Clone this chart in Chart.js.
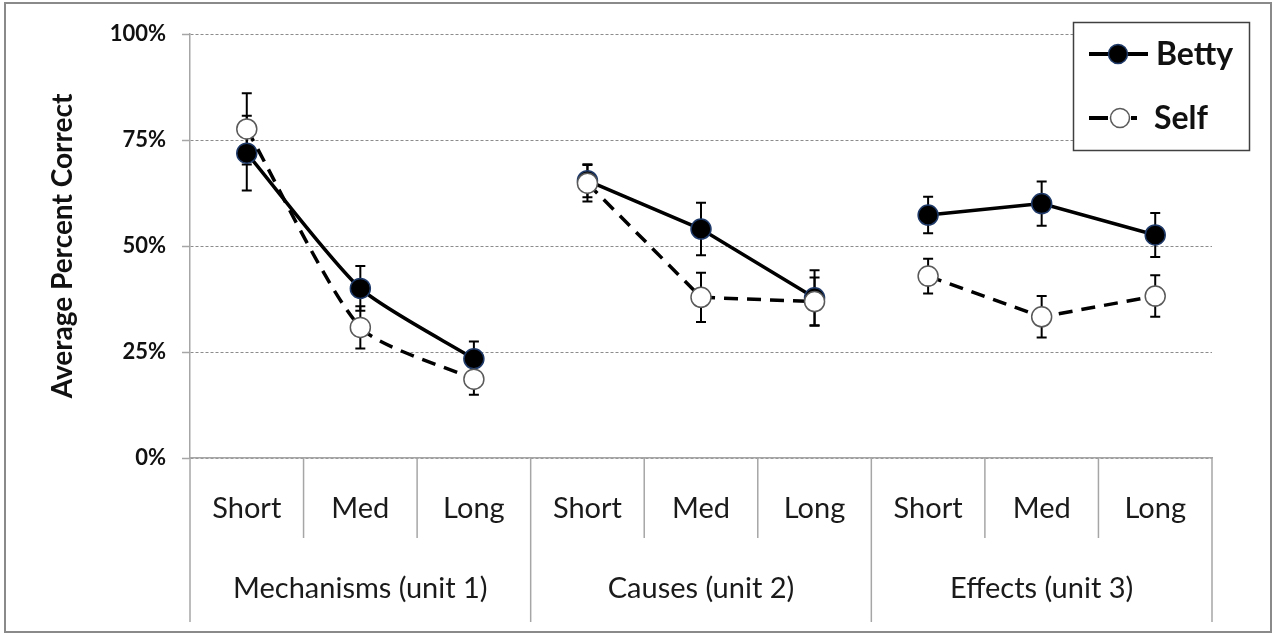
<!DOCTYPE html>
<html><head><meta charset="utf-8">
<script src="https://cdn.jsdelivr.net/npm/chart.js@4"></script>
<style>
html,body{margin:0;padding:0;background:#fff;}
#wrap{position:relative;width:1274px;height:634px;}
canvas{display:block;}
</style></head><body>
<div id="wrap"><canvas id="c" width="1274" height="634"></canvas></div>
<script>
const categories = ['Short','Med','Long','Short','Med','Long','Short','Med','Long'];
const groups = ['Mechanisms (unit 1)','Causes (unit 2)','Effects (unit 3)'];
const groupSize = 3;
const bettyValues = [71.9, 40.0, 23.4, 65.4, 54.0, 37.8, 57.3, 60.0, 52.6];
const bettyErrors = [8.8, 5.3, 4.1, 3.9, 6.2, 6.5, 4.3, 5.2, 5.2];
const selfValues  = [77.6, 30.8, 18.6, 64.8, 37.9, 36.9, 42.9, 33.3, 38.2];
const selfErrors  = [8.4, 5.0, 3.7, 4.3, 5.8, 5.7, 4.1, 4.9, 4.9];
const groupTension = [0.22, 0, 0];
const yTicks = [0, 25, 50, 75, 100];
const seriesNames = ['Betty', 'Self'];

const FONT = 'Lato';
const AXIS_GRAY = '#a6a6a6';

function mask(arr, g) { return arr.map((v, i) => Math.floor(i / groupSize) === g ? v : null); }

const datasets = [];
// Self first so it is drawn on top
groups.forEach((name, g) => {
  datasets.push({
    label: 'Self', data: mask(selfValues, g), borderColor: '#000', borderWidth: 3.5,
    borderDash: [14, 9], pointRadius: 10, pointBackgroundColor: '#fff',
    pointBorderColor: '#5a5a5a', pointBorderWidth: 1.5, tension: groupTension[g], spanGaps: false
  });
});
groups.forEach((name, g) => {
  datasets.push({
    label: 'Betty', data: mask(bettyValues, g), borderColor: '#000', borderWidth: 3.5,
    pointRadius: 10, pointBackgroundColor: '#000',
    pointBorderColor: '#1f3a68', pointBorderWidth: 1.5, tension: groupTension[g], spanGaps: false
  });
});

const errorBars = {
  id: 'errorBars',
  beforeDatasetsDraw(chart) {
    const ctx = chart.ctx, xs = chart.scales.x, ys = chart.scales.y;
    const sets = [[bettyValues, bettyErrors], [selfValues, selfErrors]];
    ctx.save();
    ctx.strokeStyle = '#000';
    ctx.lineWidth = 2;
    sets.forEach(([vals, errs]) => {
      vals.forEach((v, i) => {
        const x = xs.getPixelForValue(i);
        const y1 = ys.getPixelForValue(v + errs[i]);
        const y2 = ys.getPixelForValue(v - errs[i]);
        ctx.beginPath();
        ctx.moveTo(x, y1); ctx.lineTo(x, y2);
        ctx.moveTo(x - 5, y1); ctx.lineTo(x + 5, y1);
        ctx.moveTo(x - 5, y2); ctx.lineTo(x + 5, y2);
        ctx.stroke();
      });
    });
    ctx.restore();
  }
};

const decor = {
  id: 'decor',
  afterDraw(chart) {
    const ctx = chart.ctx, xs = chart.scales.x, ys = chart.scales.y;
    const area = chart.chartArea;
    const step = xs.getPixelForValue(1) - xs.getPixelForValue(0);
    ctx.save();
    // category separators
    ctx.strokeStyle = AXIS_GRAY;
    ctx.lineWidth = 1.5;
    for (let i = 0; i <= categories.length; i++) {
      const x = xs.getPixelForValue(0) + (i - 0.5) * step;
      const isGroup = i % groupSize === 0;
      ctx.beginPath();
      ctx.moveTo(x, area.bottom);
      ctx.lineTo(x, isGroup ? area.bottom + 164 : area.bottom + 80);
      ctx.stroke();
    }
    // group labels
    ctx.fillStyle = '#1a1a1a';
    ctx.font = '29px ' + FONT;
    ctx.textAlign = 'center';
    ctx.textBaseline = 'middle';
    groups.forEach((name, g) => {
      const x = xs.getPixelForValue(g * groupSize + 1);
      ctx.fillText(name, x, area.bottom + 131);
    });
    // y title
    ctx.save();
    ctx.translate(63, (area.top + area.bottom) / 2 + 0);
    ctx.rotate(-Math.PI / 2);
    ctx.font = 'bold 28px ' + FONT;
    ctx.fillStyle = '#111';
    ctx.fillText('Average Percent Correct', 0, 0);
    ctx.restore();
    // legend
    ctx.fillStyle = '#fff';
    ctx.fillRect(1073, 22, 176, 128);
    ctx.strokeStyle = '#404040';
    ctx.lineWidth = 1.5;
    ctx.strokeRect(1073.5, 22.5, 176, 128);
    const legendY = [54, 118];
    // Betty
    ctx.strokeStyle = '#000';
    ctx.lineWidth = 4;
    ctx.beginPath(); ctx.moveTo(1089, legendY[0]); ctx.lineTo(1148, legendY[0]); ctx.stroke();
    ctx.beginPath(); ctx.arc(1118, legendY[0], 9.5, 0, Math.PI * 2);
    ctx.fillStyle = '#000'; ctx.fill();
    ctx.strokeStyle = '#1f3a68'; ctx.lineWidth = 1.5; ctx.stroke();
    // Self
    ctx.strokeStyle = '#000'; ctx.lineWidth = 4;
    ctx.beginPath(); ctx.moveTo(1089, legendY[1]); ctx.lineTo(1108, legendY[1]); ctx.stroke();
    ctx.beginPath(); ctx.moveTo(1131, legendY[1]); ctx.lineTo(1137, legendY[1]); ctx.stroke();
    ctx.beginPath(); ctx.arc(1120, legendY[1], 9.5, 0, Math.PI * 2);
    ctx.fillStyle = '#fff'; ctx.fill();
    ctx.strokeStyle = '#5a5a5a'; ctx.lineWidth = 1.5; ctx.stroke();
    ctx.fillStyle = '#111';
    ctx.font = 'bold 32px ' + FONT;
    ctx.textAlign = 'left';
    ctx.fillText(seriesNames[0], 1156, legendY[0] + 1);
    ctx.fillText(seriesNames[1], 1154, legendY[1] + 1);
    // outer frame
    ctx.strokeStyle = '#8a8a8a';
    ctx.lineWidth = 2;
    ctx.strokeRect(5, 3, 1266, 629);
    ctx.restore();
  }
};

new Chart(document.getElementById('c'), {
  type: 'line',
  data: { labels: categories, datasets },
  options: {
    responsive: false,
    animation: false,
    devicePixelRatio: 1,
    events: [],
    layout: { padding: { top: 34, right: 62, left: 0, bottom: 0 } },
    plugins: { legend: { display: false }, tooltip: { enabled: false } },
    scales: {
      x: {
        type: 'category',
        offset: true,
        grid: { display: false, drawTicks: false },
        border: { display: true, color: AXIS_GRAY, width: 1.5 },
        ticks: { font: { family: FONT, size: 29 }, color: '#1a1a1a', padding: 33, maxRotation: 0, autoSkip: false },
        afterFit(s) { s.height = 176; }
      },
      y: {
        min: 0, max: 100,
        afterBuildTicks(s) { s.ticks = yTicks.map(v => ({ value: v })); },
        ticks: { callback: v => v + '%', font: { family: FONT, size: 22, weight: 'bold' }, color: '#111', padding: 16 },
        grid: { color: '#8c8c8c', lineWidth: 1, tickLength: 8, tickColor: AXIS_GRAY, tickBorderDash: [], tickWidth: 1.5 },
        border: { display: true, color: AXIS_GRAY, width: 1.5, dash: [3, 2] },
        afterFit(s) { s.width = 190; }
      }
    }
  },
  plugins: [errorBars, decor]
});
</script>
</body></html>
